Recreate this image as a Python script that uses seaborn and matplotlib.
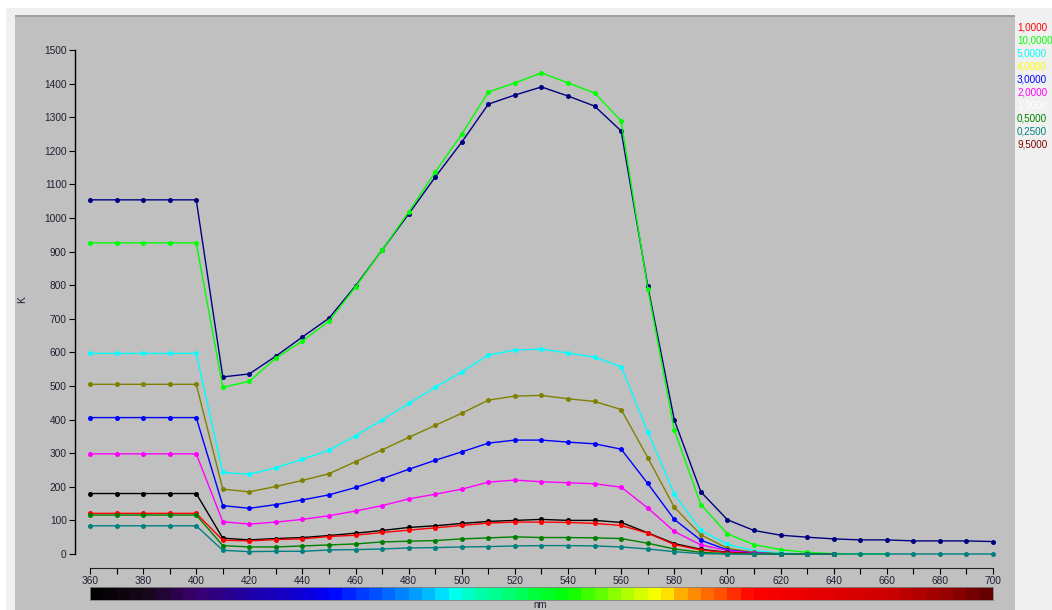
import numpy as np
import pandas as pd
import matplotlib
matplotlib.use("Agg")
import matplotlib.pyplot as plt
import seaborn as sns
from matplotlib.patches import Rectangle
from matplotlib.colors import LinearSegmentedColormap
from matplotlib.ticker import FuncFormatter

N = np.nan
wavelengths = list(range(360, 710, 10))

s_navy = [1054]*5 + [527, 536, 589, 646, 702, 798, 905, 1012, 1122, 1226, 1339, 1366, 1390, 1363, 1333, 1259,
                     798, 399, 185, 102, 70, 56, 50, 45, 42, 42, 39, 39, 39, 37]
s_lime = [926]*5 + [496, 514, 583, 634, 693, 795, 905, 1018, 1137, 1250, 1375, 1402, 1432, 1402, 1372, 1289,
                    790, 369, 147, 60, 28, 13, 5, 1, 0, 0] + [N]*4
s_cyan = [597]*5 + [243, 237, 257, 282, 309, 352, 399, 448, 496, 542, 592, 607, 610, 598, 586, 557,
                    364, 178, 70, 29, 10, 3, 0, 0] + [N]*6
s_olive = [505]*5 + [193, 185, 201, 219, 239, 275, 310, 347, 383, 419, 458, 470, 472, 462, 454, 430,
                     287, 139, 57, 17, 5, 1, 0, 0] + [N]*6
s_blue = [406]*5 + [144, 136, 147, 161, 176, 198, 224, 252, 279, 304, 330, 339, 339, 333, 328, 312,
                    210, 103, 41, 12, 3, 0, 0, 0] + [N]*6
s_magenta = [298]*5 + [96, 89, 95, 103, 114, 128, 144, 164, 178, 193, 214, 220, 215, 212, 209, 199,
                       137, 67, 27, 10, 3, 0, 0, 0] + [N]*6
s_black = [180]*5 + [47, 42, 46, 49, 55, 62, 70, 79, 84, 91, 97, 100, 103, 100, 100, 94,
                     63, 31, 14, 5, 1, 0, 0, 0] + [N]*6
s_red = [121]*5 + [41, 39, 43, 45, 52, 56, 64, 71, 78, 85, 92, 95, 95, 94, 91, 85,
                   62, 28, 12, 4, 1, 0, 0, 0] + [N]*6
s_green = [116]*5 + [25, 21, 21, 24, 27, 30, 36, 38, 40, 45, 48, 51, 49, 49, 48, 46,
                     32, 15, 5, 1, 0, 0, 0, 0] + [N]*6
s_teal = [84]*5 + [11, 7, 8, 8, 12, 13, 15, 18, 19, 21, 22, 24, 25, 25, 24, 21,
                   15, 7, 1, 0, 0, 0, 0, 0, 0, 0, 0, 0, 0, 0]

series_names = ["navy", "lime", "cyan", "olive", "blue", "magenta", "black", "red", "green", "teal"]
series_values = [s_navy, s_lime, s_cyan, s_olive, s_blue, s_magenta, s_black, s_red, s_green, s_teal]
line_colors = ["#000080", "#00ff00", "#00ffff", "#808000", "#0000ff", "#ff00ff", "#000000", "#ff0000",
               "#008000", "#008080"]

legend_labels = ["1,0000", "10,0000", "5,0000", "4,0000", "3,0000", "2,0000", "1,0000", "0,5000",
                 "0,2500", "9,5000"]
legend_colors = ["#ff0000", "#00ff00", "#00ffff", "#ffff00", "#0000ff", "#ff00ff", "#ffffff", "#008000",
                 "#008080", "#800000"]

x_ticks = list(range(360, 710, 10))
y_ticks = list(range(0, 1600, 100))

spec_nm = [360, 380, 400, 420, 440, 450, 460, 470, 480, 490, 495, 500, 510, 520, 530, 540, 550, 560,
           570, 575, 580, 590, 600, 610, 640, 660, 680, 700]
spec_col = ["#000000", "#160818", "#3a0070", "#2000a8", "#1000d8", "#0000ff", "#0030ff", "#0060ff",
            "#0090ff", "#00c8ff", "#00ffff", "#00ffd8", "#00ff9c", "#00ff68", "#00ff30", "#00ff00",
            "#50ff00", "#a0ff00", "#e0ff00", "#ffff00", "#ffc000", "#ff8000", "#ff4000", "#ff0000",
            "#e00000", "#d00000", "#a00000", "#600000"]

# ---------- figure ----------
W, H = 1052, 610
fig = plt.figure(figsize=(W / 100, H / 100), dpi=100, facecolor="white")


def fa(l, t, r, b):
    return [l / W, 1 - b / H, (r - l) / W, (b - t) / H]


fig.patches.append(Rectangle((6 / W, 0), 1, 1 - 8 / H, transform=fig.transFigure,
                             facecolor="#f0f0f0", edgecolor="none", zorder=-3))
fig.patches.append(Rectangle((15 / W, 0), (1015 - 15) / W, 1 - 15 / H, transform=fig.transFigure,
                             facecolor="#c0c0c0", edgecolor="none", zorder=-2))
fig.patches.append(Rectangle((15 / W, 1 - 17 / H), (1015 - 15) / W, 2 / H, transform=fig.transFigure,
                             facecolor="#a0a0a0", edgecolor="none", zorder=-1))

px_per_nm = (993 - 90) / 340.0
xlo = 360 - (90 - 75) / px_per_nm
xhi = 700 + (1005 - 993) / px_per_nm

ax = fig.add_axes(fa(75, 50, 1005, 554))
ax.patch.set_alpha(0)

rows = []
for name, vals in zip(series_names, series_values):
    for w, v in zip(wavelengths, vals):
        rows.append({"nm": w, "K": v, "series": name})
df = pd.DataFrame(rows).dropna()

sns.lineplot(data=df, x="nm", y="K", hue="series", hue_order=series_names,
             palette=dict(zip(series_names, line_colors)), marker="o", markersize=3.6,
             markeredgewidth=0, linewidth=1.0, estimator=None, sort=False, legend=False, ax=ax)
for ln in ax.lines:
    ln.set_clip_on(False)

ax.set_xlim(xlo, xhi)
ax.set_ylim(0, 1500)
for s in ["top", "right", "bottom"]:
    ax.spines[s].set_visible(False)
ax.spines["left"].set_color("black")
ax.spines["left"].set_linewidth(1.0)
ax.set_xticks([])
ax.set_yticks(y_ticks)
ax.set_yticklabels([str(v) for v in y_ticks])
ax.tick_params(axis="y", length=4, width=0.8, pad=2, labelsize=7.3, labelcolor="#202030",
               labelfontfamily="Liberation Sans")
ax.set_xlabel("")
ax.set_ylabel("")

# separate x axis
axx = fig.add_axes(fa(75, 560, 1005, 568))
axx.patch.set_alpha(0)
axx.set_xlim(xlo, xhi)
axx.set_yticks([])
for s in ["top", "right", "left"]:
    axx.spines[s].set_visible(False)
axx.spines["bottom"].set_bounds(360, 700)
axx.spines["bottom"].set_color("#202020")
axx.set_xticks(x_ticks)
axx.xaxis.set_major_formatter(FuncFormatter(lambda v, p: f"{int(round(v))}" if int(round(v)) % 20 == 0 else ""))
axx.tick_params(axis="x", length=4, width=0.8, pad=2, labelsize=7.3, labelcolor="#202030",
                labelfontfamily="Liberation Sans")

# spectrum bar
axc = fig.add_axes(fa(90, 587, 993, 600))
cmap = LinearSegmentedColormap.from_list(
    "spec", [((n - 360) / 340.0, c) for n, c in zip(spec_nm, spec_col)])
centers = np.arange(362.5, 700, 5.0)
axc.imshow(((centers - 360) / 340.0)[None, :], aspect="auto", cmap=cmap, vmin=0, vmax=1,
           extent=[360, 700, 0, 1], interpolation="nearest")
axc.set_xticks([])
axc.set_yticks([])
for s in axc.spines.values():
    s.set_color("#808080")
    s.set_linewidth(0.6)

fig.text(540 / W, 1 - 605 / H, "nm", fontsize=7, color="#202030", family="Liberation Sans",
         ha="center", va="center")
fig.text(22 / W, 1 - 300 / H, "K", fontsize=7.3, color="#202030", family="Liberation Sans",
         ha="center", va="center", rotation=90)

for i, (lab, col) in enumerate(zip(legend_labels, legend_colors)):
    fig.text(1017 / W, 1 - (28 + i * 12.9) / H, lab, fontsize=7.1, color=col,
             family="Liberation Sans", ha="left", va="center")

fig.savefig("out.png", dpi=100, facecolor=fig.get_facecolor())
